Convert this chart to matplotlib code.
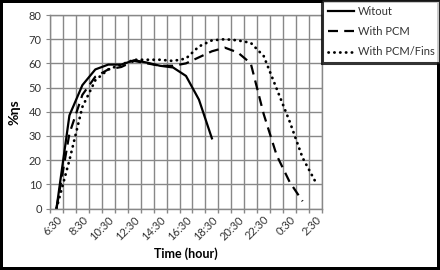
import matplotlib
matplotlib.use('Agg')
import matplotlib.pyplot as plt
import numpy as np

plt.rcParams['font.family'] = ['Lato', 'DejaVu Sans']

times = ['6:30', '7:30', '8:30', '9:30', '10:30', '11:30', '12:30', '13:30',
         '14:30', '15:30', '16:30', '17:30', '18:30', '19:30', '20:30',
         '21:30', '22:30', '23:30', '0:30', '1:30', '2:30']

# efficiency (%) per hour
witout = [0, 38.5, 51, 57.5, 59.5, 59.5, 61.3, 60.3, 59, 58.3, 54.8, 45, 29]
with_pcm = [0, 31, 47, 54.5, 57.5, 58.5, 61, 60, 59, 59, 60, 62.5, 65, 66.5,
            64.5, 60, 39, 22, 11, 3]
with_fins = [0, 20, 42, 53, 57.5, 59.5, 61.5, 61.5, 61.5, 61, 62, 67, 69.5,
             70, 69.5, 68.5, 63, 49.5, 36, 21, 11]

W, H = 440, 270
fig = plt.figure(figsize=(W / 100, H / 100), dpi=100)
fig.patch.set_edgecolor('black')
fig.patch.set_linewidth(4)

ax = fig.add_axes([50 / W, 1 - 208.5 / H, 272 / W, 193.5 / H])

grid_col = '#888888'
x = np.arange(len(times))

ax.plot(x[:len(witout)], witout, color='black', lw=1.6, label='Witout')
ax.plot(x[:len(with_pcm)], with_pcm, color='black', lw=1.6,
        dashes=(4.5, 2.8), label='With PCM')
ax.plot(x[:len(with_fins)], with_fins, color='black', lw=2,
        linestyle=(0, (0.1, 2.0)), dash_capstyle='round', label='With PCM/Fins')

ax.set_xlim(-0.5, len(times) - 0.5)
ax.set_ylim(0, 80)
ax.set_yticks(np.arange(0, 81, 10))

# category gridlines between the points, labels every 2 hours
ax.set_xticks(np.arange(-0.5, len(times), 1.0), minor=True)
ax.set_xticks(x[::2])
ax.set_xticklabels(times[::2], rotation=45, ha='right', va='top',
                   rotation_mode='anchor', fontsize=8, color='#333333')
ax.tick_params(axis='x', which='major', length=0, pad=4)
ax.tick_params(axis='x', which='minor', length=3, color=grid_col, width=1)
ax.tick_params(axis='y', length=3, color=grid_col, labelsize=8,
               labelcolor='#333333', pad=3)

ax.grid(True, which='minor', axis='x', color=grid_col, lw=1)
ax.grid(True, which='major', axis='y', color=grid_col, lw=1)
for s in ax.spines.values():
    s.set_color(grid_col)
    s.set_linewidth(1)

ax.set_xlabel('Time (hour)', fontsize=9, fontweight='bold', labelpad=4)
ax.set_ylabel('%ηs', fontsize=10, fontweight='bold', labelpad=6)

leg = fig.legend(loc='upper right', bbox_to_anchor=(1.0, 1.0), fontsize=8,
                 frameon=True, fancybox=False, handlelength=2.4,
                 handletextpad=0.3, borderpad=0.5, labelspacing=0.85,
                 borderaxespad=0)
leg.get_frame().set_edgecolor('black')
leg.get_frame().set_linewidth(2.2)
for t in leg.get_texts():
    t.set_color('#333333')

fig.savefig('out.png', dpi=100)
